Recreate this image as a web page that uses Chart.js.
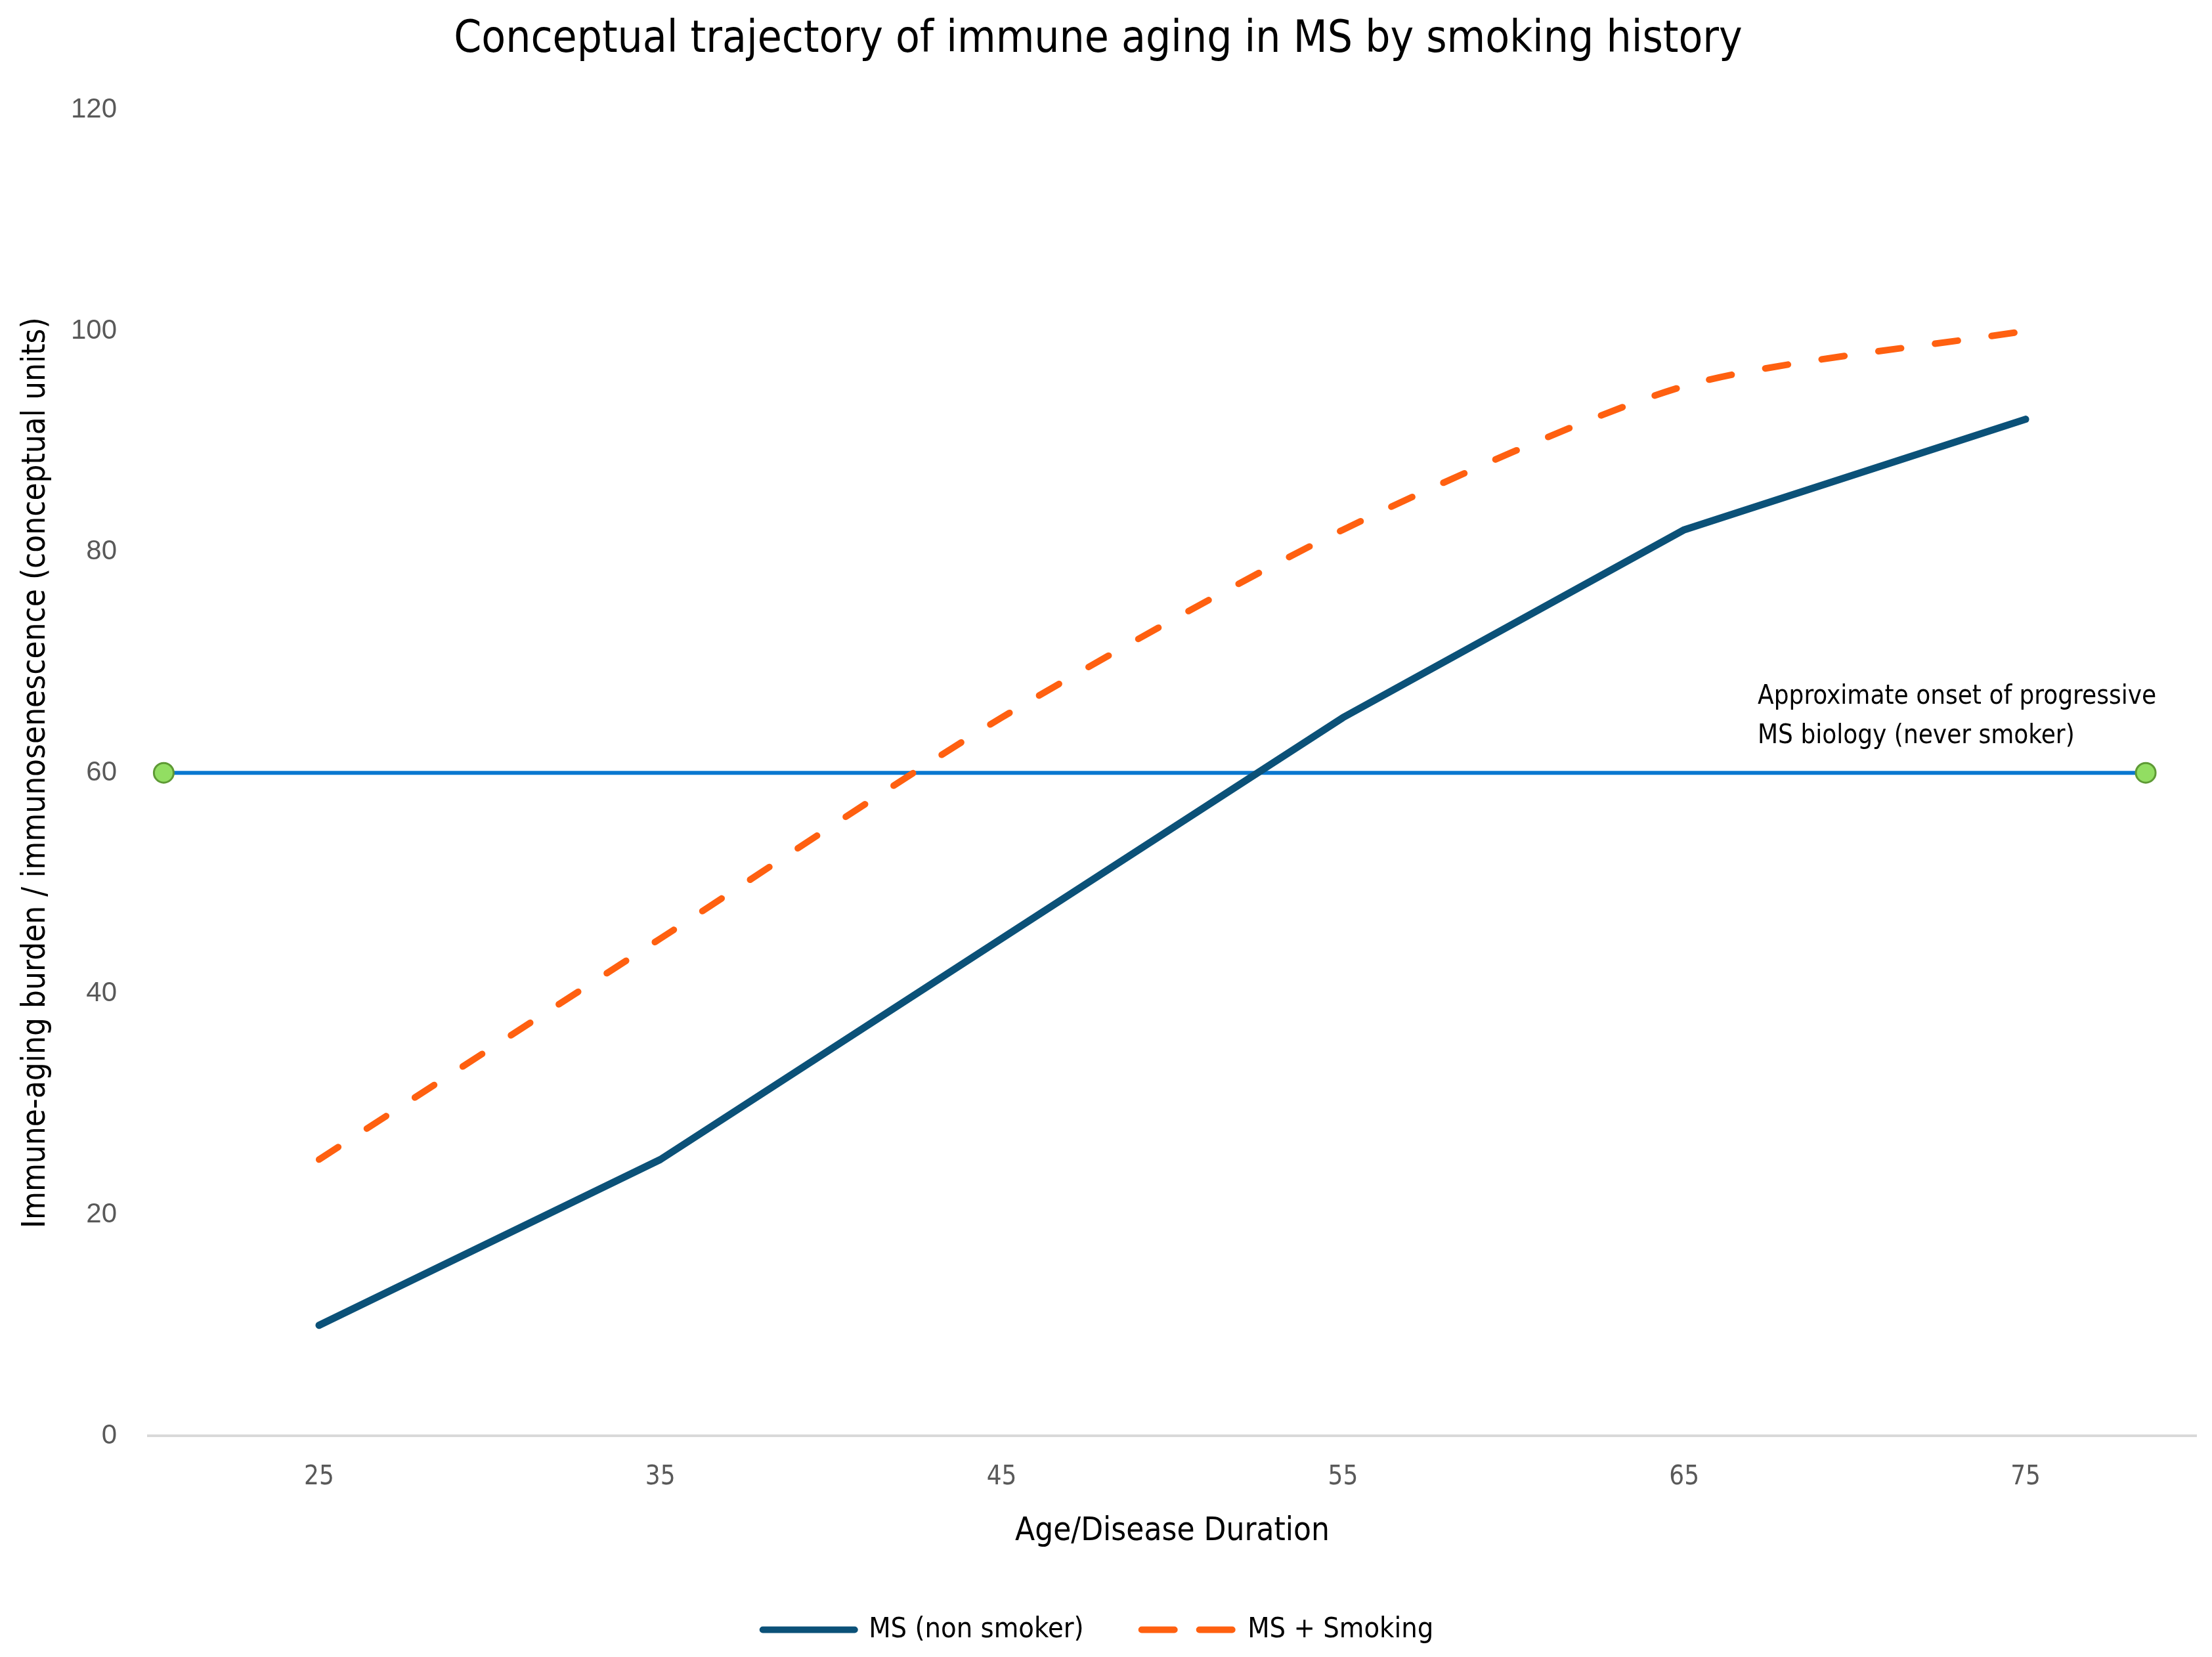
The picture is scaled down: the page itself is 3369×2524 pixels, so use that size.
<!DOCTYPE html>
<html>
<head>
<meta charset="utf-8">
<script src="https://cdn.jsdelivr.net/npm/chart.js@4.4.1/dist/chart.umd.min.js"></script>
<style>
  html, body { margin: 0; padding: 0; background: #fff; }
  #wrap { width: 3369px; height: 2524px; }
</style>
</head>
<body>
<div id="wrap"><canvas id="chart" width="3369" height="2524"></canvas></div>
<script>
// Chart data
const ages = [25, 35, 45, 55, 65, 75];
const nonSmoker = [10, 25, 45, 65, 82, 92];
const smoking = [25, 45, 65, 82, 95, 100];
const onsetX = [20.45, 78.52];
const onsetY = [60, 60];
const yTicks = [0, 20, 40, 60, 80, 100, 120];
const onsetLabel = ['Approximate onset of progressive', 'MS biology (never smoker)'];

const FONT = '"Liberation Sans Narrow", "DejaVu Sans Condensed", "Liberation Sans", sans-serif';

// Text label next to the right end of the onset line
const onsetLabelPlugin = {
    id: 'onsetLabel',
    afterDatasetsDraw(chart) {
        const meta = chart.getDatasetMeta(2);
        const pt = meta.data[1];
        if (!pt) return;
        const ctx = chart.ctx;
        ctx.save();
        ctx.font = '40px ' + FONT;
        ctx.fillStyle = '#000';
        ctx.textAlign = 'left';
        ctx.textBaseline = 'middle';
        ctx.fillText(onsetLabel[0], pt.x - 591, pt.y - 116);
        ctx.fillText(onsetLabel[1], pt.x - 591, pt.y - 56);
        ctx.restore();
    }
};

new Chart(document.getElementById('chart').getContext('2d'), {
    type: 'line',
    data: {
        datasets: [{
            label: 'MS (non smoker)',
            data: ages.map((a, i) => ({x: a, y: nonSmoker[i]})),
            borderColor: '#0B5178',
            borderWidth: 11,
            borderCapStyle: 'round',
            borderJoinStyle: 'round',
            pointRadius: 0,
            tension: 0
        }, {
            label: 'MS + Smoking',
            data: ages.map((a, i) => ({x: a, y: smoking[i]})),
            borderColor: '#FF6010',
            borderWidth: 10,
            borderDash: [35, 52],
            borderCapStyle: 'round',
            borderJoinStyle: 'round',
            pointRadius: 0,
            tension: 0.25
        }, {
            label: 'onset',
            data: onsetX.map((x, i) => ({x: x, y: onsetY[i]})),
            borderColor: '#0A78D0',
            borderWidth: 6,
            pointRadius: 15,
            pointBackgroundColor: '#92DE62',
            pointBorderColor: '#5E9A35',
            pointBorderWidth: 3,
            tension: 0
        }]
    },
    options: {
        responsive: false,
        animation: false,
        devicePixelRatio: 1,
        layout: { padding: { left: 0, right: 24, top: 0, bottom: 10 } },
        plugins: {
            title: {
                display: true,
                text: 'Conceptual trajectory of immune aging in MS by smoking history',
                color: '#000',
                font: { family: FONT, size: 67, weight: 'normal' },
                padding: { top: 21, bottom: 66 }
            },
            legend: {
                position: 'bottom',
                labels: {
                    filter: item => item.datasetIndex < 2,
                    usePointStyle: true,
                    pointStyleWidth: 140,
                    padding: 88,
                    color: '#000',
                    font: { family: FONT, size: 43 },
                    generateLabels(chart) {
                        return chart.data.datasets.map((ds, i) => ({
                            text: ds.label,
                            datasetIndex: i,
                            pointStyle: 'line',
                            strokeStyle: ds.borderColor,
                            fillStyle: ds.borderColor,
                            lineWidth: 10,
                            lineCap: 'round',
                            lineDash: i === 1 ? [50, 38] : [],
                            fontColor: '#000'
                        }));
                    }
                }
            },
            tooltip: { enabled: false }
        },
        scales: {
            x: {
                type: 'linear',
                min: 20,
                max: 80,
                afterBuildTicks: s => { s.ticks = ages.map(v => ({value: v})); },
                afterFit: s => { s.height = 186; },
                grid: { display: false, drawTicks: false },
                border: { display: true, color: '#D9D9D9', width: 4 },
                ticks: {
                    color: '#595959',
                    font: { family: FONT, size: 40 },
                    padding: 40
                },
                title: {
                    display: true,
                    text: 'Age/Disease Duration',
                    color: '#000',
                    font: { family: FONT, size: 49 },
                    padding: { top: 0, bottom: 10 }
                }
            },
            y: {
                min: 0,
                max: 120,
                afterBuildTicks: s => { s.ticks = yTicks.map(v => ({value: v})); },
                afterFit: s => { s.width = 226; },
                grid: { display: false, drawTicks: false },
                border: { display: false },
                ticks: {
                    color: '#595959',
                    font: { family: '"Liberation Sans", sans-serif', size: 42 },
                    padding: 48
                },
                title: {
                    display: true,
                    text: 'Immune-aging burden / immunosenescence (conceptual units)',
                    color: '#000',
                    font: { family: FONT, size: 49 },
                    padding: { top: 26, bottom: 0 }
                }
            }
        }
    },
    plugins: [onsetLabelPlugin]
});
</script>
</body>
</html>
